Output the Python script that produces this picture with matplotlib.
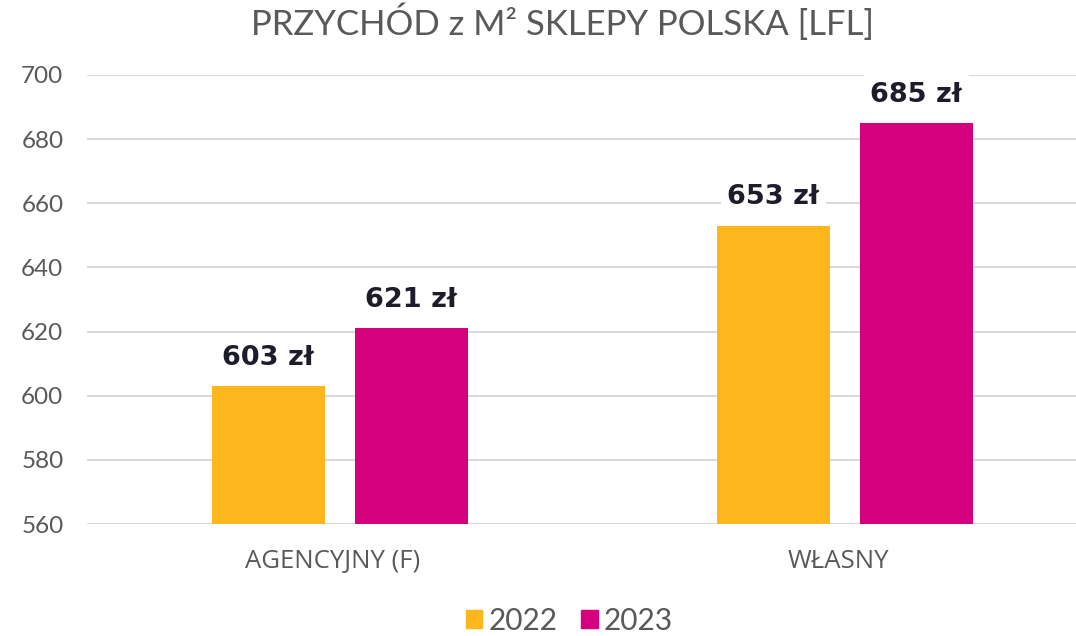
import numpy as np
import matplotlib
matplotlib.use('Agg')
import matplotlib.pyplot as plt
from matplotlib.patches import Patch

# dane
kategorie = ['AGENCYJNY (F)', 'WŁASNY']
lata = ['2022', '2023']
wartosci_2022 = [603, 653]
wartosci_2023 = [621, 685]
etykiety_2022 = ['603 zł', '653 zł']
etykiety_2023 = ['621 zł', '685 zł']
kolory = ['#FDB71C', '#D5007D']
ticki_y = [560, 580, 600, 620, 640, 660, 680, 700]

szary = '#595959'

fig = plt.figure(figsize=(10.76, 6.36), dpi=100)
ax = fig.add_axes([0.0809, 0.1761, 0.919, 0.706])

x = np.arange(len(kategorie))
szer = 0.224
off_2022 = -0.128
off_2023 = 0.155

b1 = ax.bar(x + off_2022, wartosci_2022, width=szer, color=kolory[0], zorder=3)
b2 = ax.bar(x + off_2023, wartosci_2023, width=szer, color=kolory[1], zorder=3)

# etykiety nad slupkami, z bialym tlem (zaslaniaja siatke)
for slupki, etyk in [(b1, etykiety_2022), (b2, etykiety_2023)]:
    for s, t in zip(slupki, etyk):
        ax.annotate(t, (s.get_x() + s.get_width() / 2, s.get_height()),
                    xytext=(0, 20.5), textcoords='offset points',
                    ha='center', va='center', fontsize=19.5, fontweight='bold',
                    family='DejaVu Sans', color='#1C1C2A', zorder=4,
                    bbox=dict(boxstyle='square,pad=0.25', fc='white', ec='none'))

ax.set_ylim(560, 700)
ax.set_xlim(-0.487, 1.471)
ax.set_yticks(ticki_y)
ax.set_xticks(x)
ax.set_xticklabels(kategorie, family='Open Sans', fontsize=18.5, color=szary)
for lab in ax.get_yticklabels():
    lab.set_family('Lato')
    lab.set_fontsize(17.5)
    lab.set_color(szary)
ax.tick_params(axis='y', length=0, pad=17)
ax.tick_params(axis='x', length=0, pad=18)

ax.grid(axis='y', color='#D9D9D9', linewidth=1.5, zorder=0)
ax.set_axisbelow(True)
for sp in ax.spines.values():
    sp.set_visible(False)

fig.text(0.523, 0.965, 'PRZYCHÓD z M² SKLEPY POLSKA [LFL]', ha='center', va='center',
         fontsize=25, family='Lato', fontweight='normal', color=szary)

uchwyty = [Patch(color=kolory[0]), Patch(color=kolory[1])]
leg = fig.legend(uchwyty, lata, loc='center', bbox_to_anchor=(0.529, 0.024), ncol=2,
                 frameon=False, handlelength=0.55, handleheight=0.55, handletextpad=0.2,
                 columnspacing=0.8, prop={'family': 'Lato', 'size': 21.5})
for t in leg.get_texts():
    t.set_color(szary)

fig.savefig('out.png', dpi=100)
